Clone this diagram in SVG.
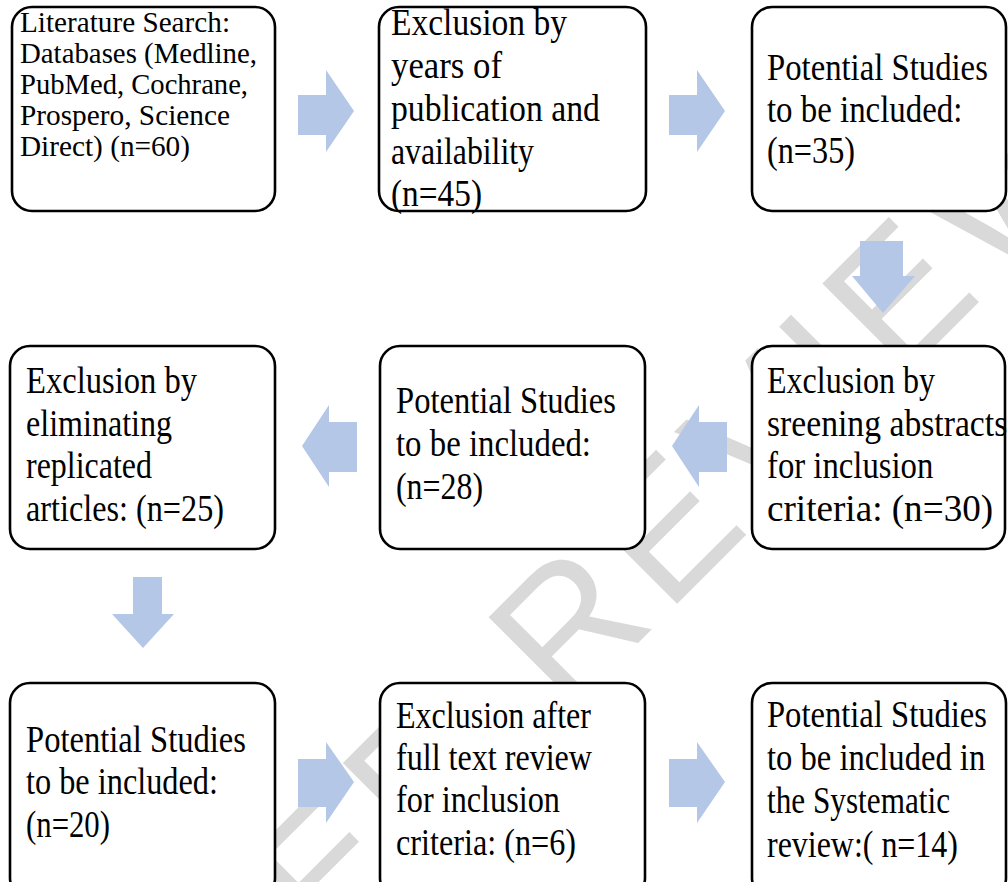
<svg xmlns="http://www.w3.org/2000/svg" width="1008" height="882" viewBox="0 0 1008 882">
<style>
.box{fill:#ffffff;stroke:#000000;stroke-width:2.6}
.t{font-family:"Liberation Serif","Times New Roman",serif;font-size:38px;fill:#000000}
.s{font-size:28.5px}
.arr{fill:#b4c7e7}
.wm{font-family:"Liberation Sans",Arial,sans-serif;font-size:180px;fill:#d9d9d9;letter-spacing:13px}
</style>
<rect width="1008" height="882" fill="#ffffff"/>
<g id="watermark">
<text class="wm" x="-203" y="1484" transform="rotate(-45 -203 1484)">FOR PEER REVIEW</text>
</g>
<g id="node1">
<rect class="box" x="12" y="7" width="263" height="204" rx="20"/>
<text class="t s" x="20" y="32" textLength="210" lengthAdjust="spacingAndGlyphs">Literature Search:</text>
<text class="t s" x="20" y="63" textLength="237" lengthAdjust="spacingAndGlyphs">Databases (Medline,</text>
<text class="t s" x="20" y="94" textLength="228" lengthAdjust="spacingAndGlyphs">PubMed, Cochrane,</text>
<text class="t s" x="20" y="125" textLength="210" lengthAdjust="spacingAndGlyphs">Prospero, Science</text>
<text class="t s" x="20" y="156" textLength="170" lengthAdjust="spacingAndGlyphs">Direct) (n=60)</text>
</g>
<g id="node2">
<rect class="box" x="379" y="7" width="267" height="204" rx="20"/>
<text class="t" x="391" y="35" textLength="176" lengthAdjust="spacingAndGlyphs">Exclusion by</text>
<text class="t" x="391" y="78" textLength="111" lengthAdjust="spacingAndGlyphs">years of</text>
<text class="t" x="391" y="121" textLength="209" lengthAdjust="spacingAndGlyphs">publication and</text>
<text class="t" x="391" y="164" textLength="143" lengthAdjust="spacingAndGlyphs">availability</text>
<text class="t" x="391" y="206" textLength="91" lengthAdjust="spacingAndGlyphs">(n=45)</text>
</g>
<g id="node3">
<rect class="box" x="752" y="7" width="254" height="204" rx="20"/>
<g transform="matrix(0.88 0 0 1 92.04 0)">
<text class="t" x="767" y="80" textLength="251" lengthAdjust="spacingAndGlyphs">Potential Studies</text>
<text class="t" x="767" y="122" textLength="222" lengthAdjust="spacingAndGlyphs">to be included:</text>
<text class="t" x="767" y="163" textLength="100" lengthAdjust="spacingAndGlyphs">(n=35)</text>
</g>
</g>
<g id="node4">
<rect class="box" x="10" y="346" width="265" height="203" rx="20"/>
<text class="t" x="26" y="393" textLength="171" lengthAdjust="spacingAndGlyphs">Exclusion by</text>
<text class="t" x="26" y="436" textLength="146" lengthAdjust="spacingAndGlyphs">eliminating</text>
<text class="t" x="26" y="478" textLength="126" lengthAdjust="spacingAndGlyphs">replicated</text>
<text class="t" x="26" y="521" textLength="198" lengthAdjust="spacingAndGlyphs">articles: (n=25)</text>
</g>
<g id="node5">
<rect class="box" x="380" y="346" width="265" height="203" rx="20"/>
<text class="t" x="396" y="413" textLength="220" lengthAdjust="spacingAndGlyphs">Potential Studies</text>
<text class="t" x="396" y="456" textLength="195" lengthAdjust="spacingAndGlyphs">to be included:</text>
<text class="t" x="396" y="499" textLength="87" lengthAdjust="spacingAndGlyphs">(n=28)</text>
</g>
<g id="node6">
<rect class="box" x="752" y="346" width="253" height="203" rx="20"/>
<g transform="matrix(0.88 0 0 1 92.04 0)">
<text class="t" x="767" y="393" textLength="191" lengthAdjust="spacingAndGlyphs">Exclusion by</text>
<text class="t" x="767" y="436" textLength="273" lengthAdjust="spacingAndGlyphs">sreening abstracts</text>
<text class="t" x="767" y="478" textLength="189" lengthAdjust="spacingAndGlyphs">for inclusion</text>
<text class="t" x="767" y="521" textLength="257" lengthAdjust="spacingAndGlyphs">criteria: (n=30)</text>
</g>
</g>
<g id="node7">
<rect class="box" x="10" y="683" width="265" height="215" rx="20"/>
<text class="t" x="26" y="752" textLength="220" lengthAdjust="spacingAndGlyphs">Potential Studies</text>
<text class="t" x="26" y="794" textLength="192" lengthAdjust="spacingAndGlyphs">to be included:</text>
<text class="t" x="26" y="837" textLength="84" lengthAdjust="spacingAndGlyphs">(n=20)</text>
</g>
<g id="node8">
<rect class="box" x="380" y="683" width="265" height="215" rx="20"/>
<text class="t" x="396" y="728" textLength="195" lengthAdjust="spacingAndGlyphs">Exclusion after</text>
<text class="t" x="396" y="770" textLength="196" lengthAdjust="spacingAndGlyphs">full text review</text>
<text class="t" x="396" y="812" textLength="164" lengthAdjust="spacingAndGlyphs">for inclusion</text>
<text class="t" x="396" y="855" textLength="180" lengthAdjust="spacingAndGlyphs">criteria: (n=6)</text>
</g>
<g id="node9">
<rect class="box" x="752" y="683" width="254" height="215" rx="20"/>
<g transform="matrix(0.88 0 0 1 92.04 0)">
<text class="t" x="767" y="727" textLength="250" lengthAdjust="spacingAndGlyphs">Potential Studies</text>
<text class="t" x="767" y="770" textLength="248" lengthAdjust="spacingAndGlyphs">to be included in</text>
<text class="t" x="767" y="813" textLength="208" lengthAdjust="spacingAndGlyphs">the Systematic</text>
<text class="t" x="767" y="857" textLength="217" lengthAdjust="spacingAndGlyphs">review:( n=14)</text>
</g>
</g>
<g id="connectors">
<polygon class="arr" points="298,95 326,95 326,70 354,111 326,152 326,135 298,135"/>
<polygon class="arr" points="669,95 697,95 697,70 725,111 697,152 697,135 669,135"/>
<polygon class="arr" points="860,241 903,241 903,276 915,276 883,313 852,276 860,276"/>
<polygon class="arr" points="727,422 699,422 699,405 672,446 699,487 699,472 727,472"/>
<polygon class="arr" points="357,422 329,422 329,405 302,446 329,487 329,472 357,472"/>
<polygon class="arr" points="133,577 162,577 162,614 174,614 143,648 112,614 133,614"/>
<polygon class="arr" points="298,759 326,759 326,742 354,782 326,823 326,807 298,807"/>
<polygon class="arr" points="669,759 697,759 697,742 725,782 697,823 697,807 669,807"/>
</g>
</svg>
